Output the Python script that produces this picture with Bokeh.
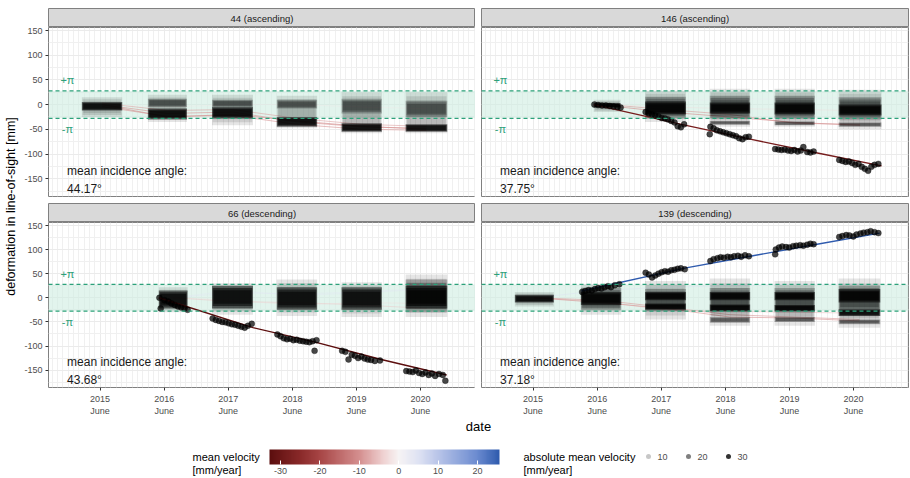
import math
from bokeh.plotting import figure
from bokeh.models import (ColumnDataSource, Range1d, FixedTicker, BoxAnnotation, Span,
                          LinearColorMapper, ColorBar)
from bokeh.layouts import row, column
from bokeh.embed import file_html
from bokeh.resources import INLINE
from bokeh.core.properties import value
from bokeh.transform import transform

# ------------------------------------------------------------------ data
PANEL_KEYS = ["44", "146", "66", "139"]
PANEL_TITLES = ["44 (ascending)", "146 (ascending)", "66 (descending)", "139 (descending)"]
INCIDENCE = ["44.17°", "37.75°", "43.68°", "37.18°"]
HALF_WAVELENGTH_MM = 27.7            # +/- pi phase ambiguity in mm

YEAR_TICKS = [2015.414, 2016.414, 2017.414, 2018.414, 2019.414, 2020.414]
YEAR_LABELS = ["2015\nJune", "2016\nJune", "2017\nJune", "2018\nJune", "2019\nJune", "2020\nJune"]
Y_TICKS = [-150, -100, -50, 0, 50, 100, 150]

# acquisition seasons (decimal year) per track
SEASON_START = {
    "44":  [2015.13, 2016.16, 2017.16, 2018.17, 2019.18, 2020.18],
    "146": [2016.36, 2017.16, 2018.17, 2019.18, 2020.18],
    "66":  [2016.33, 2017.16, 2018.17, 2019.18, 2020.18],
    "139": [2015.13, 2016.16, 2017.16, 2018.17, 2019.18, 2020.18],
}
SEASON_END = {
    "44":  [2015.76, 2016.77, 2017.80, 2018.80, 2019.81, 2020.83],
    "146": [2016.78, 2017.80, 2018.80, 2019.81, 2020.85],
    "66":  [2016.78, 2017.80, 2018.80, 2019.81, 2020.83],
    "139": [2015.74, 2016.79, 2017.80, 2018.80, 2019.81, 2020.83],
}

# dense point clouds: (season index, low mm, high mm, density level 1..3)
CLOUDS_44 = [(0, -25, 15, 1), (0, -12, 5, 3),
             (1, -35, 20, 1), (1, -5, 12, 2), (1, -30, -8, 3),
             (2, -42, 20, 1), (2, -5, 10, 2), (2, -28, -5, 3),
             (3, -48, 18, 1), (3, -8, 10, 2), (3, -45, -25, 3),
             (4, -58, 25, 1), (4, -18, 12, 2), (4, -55, -38, 3),
             (5, -58, 25, 1), (5, -25, 8, 2), (5, -55, -40, 3)]
CLOUDS_146 = [(0, -15, 10, 1), (0, -6, 3, 3),
              (1, -35, 28, 1), (1, -28, 16, 2), (1, -20, 6, 3),
              (2, -45, 32, 1), (2, -28, 18, 2), (2, -18, 4, 3), (2, -41, -33, 2),
              (3, -45, 32, 1), (3, -28, 18, 2), (3, -20, 4, 3), (3, -42, -34, 2),
              (4, -50, 30, 1), (4, -30, 15, 2), (4, -22, 0, 3), (4, -45, -36, 2)]
CLOUDS_66 = [(0, -30, 22, 1), (0, -22, 15, 3),
             (1, -35, 30, 1), (1, -22, 25, 3),
             (2, -38, 38, 1), (2, -25, 22, 3),
             (3, -40, 32, 1), (3, -25, 22, 3),
             (4, -40, 48, 1), (4, -30, 38, 2), (4, -22, 25, 3)]
CLOUDS_139 = [(0, -18, 12, 1), (0, -10, 6, 3),
              (1, -35, 28, 1), (1, -25, 20, 2), (1, -15, 12, 3),
              (2, -45, 35, 1), (2, -28, 18, 2), (2, -5, 12, 3), (2, -25, -12, 3),
              (3, -58, 40, 1), (3, -30, 20, 2), (3, -5, 12, 3), (3, -28, -14, 3), (3, -52, -40, 2),
              (4, -58, 35, 1), (4, -30, 20, 2), (4, -5, 12, 3), (4, -28, -15, 3), (4, -50, -40, 2),
              (5, -62, 40, 1), (5, -30, 25, 2), (5, -10, 18, 3), (5, -38, -24, 3), (5, -55, -45, 2)]
CLOUDS = {"44": CLOUDS_44, "146": CLOUDS_146, "66": CLOUDS_66, "139": CLOUDS_139}

# strongly moving points (dark tracks)
TRACK_146_X = [2016.37, 2016.43, 2016.49, 2016.55, 2016.61, 2016.67, 2016.73, 2016.78,
               2017.17, 2017.22, 2017.27, 2017.32, 2017.37, 2017.42, 2017.47, 2017.52, 2017.57, 2017.62, 2017.67, 2017.72, 2017.77,
               2018.17, 2018.18, 2018.23, 2018.28, 2018.33, 2018.38, 2018.43, 2018.48, 2018.53, 2018.58, 2018.63, 2018.68, 2018.73, 2018.78,
               2019.19, 2019.24, 2019.29, 2019.34, 2019.39, 2019.44, 2019.49, 2019.54, 2019.59, 2019.63, 2019.69, 2019.74, 2019.79,
               2020.19, 2020.24, 2020.29, 2020.34, 2020.39, 2020.44, 2020.49, 2020.54, 2020.59, 2020.64, 2020.69, 2020.74, 2020.80, 2020.84]
TRACK_146_Y = [0, -1, -2, -2, -3, -4, -5, -6,
               -15, -18, -20, -22, -24, -27, -28, -30, -33, -36, -44, -46, -40,
               -60, -45, -48, -52, -54, -56, -58, -60, -62, -64, -68, -70, -66, -65,
               -90, -91, -92, -91, -93, -94, -92, -95, -93, -86, -96, -97, -95,
               -112, -114, -116, -115, -118, -122, -120, -126, -130, -134, -126, -122, -120]
TRACK_66_X = [2016.34, 2016.36, 2016.42, 2016.48, 2016.53, 2016.58, 2016.63, 2016.68, 2016.73, 2016.78,
              2017.17, 2017.22, 2017.27, 2017.32, 2017.37, 2017.42, 2017.47, 2017.52, 2017.57, 2017.62, 2017.67, 2017.72, 2017.78,
              2018.18, 2018.23, 2018.28, 2018.33, 2018.38, 2018.43, 2018.48, 2018.53, 2018.58, 2018.63, 2018.68, 2018.73, 2018.76, 2018.79,
              2019.19, 2019.24, 2019.29, 2019.34, 2019.39, 2019.44, 2019.49, 2019.54, 2019.59, 2019.64, 2019.70, 2019.78,
              2020.19, 2020.24, 2020.29, 2020.34, 2020.39, 2020.44, 2020.49, 2020.54, 2020.59, 2020.64, 2020.70, 2020.76, 2020.80]
TRACK_66_Y = [0, -22, -5, -8, -12, -15, -18, -20, -22, -25,
              -43, -46, -48, -50, -51, -53, -55, -56, -58, -60, -62, -58, -54,
              -76, -80, -84, -86, -85, -88, -87, -89, -90, -91, -92, -90, -110, -88,
              -110, -112, -128, -118, -120, -125, -122, -126, -128, -129, -131, -130,
              -152, -153, -154, -151, -156, -158, -155, -160, -157, -162, -158, -160, -172]
TRACK_139_X = [2016.18, 2016.23, 2016.28, 2016.33, 2016.38, 2016.43, 2016.48, 2016.53, 2016.58, 2016.63, 2016.69, 2016.76,
               2017.17, 2017.22, 2017.27, 2017.32, 2017.37, 2017.42, 2017.47, 2017.52, 2017.57, 2017.62, 2017.67, 2017.72, 2017.78,
               2018.18, 2018.23, 2018.29, 2018.34, 2018.39, 2018.45, 2018.50, 2018.55, 2018.61, 2018.66, 2018.72, 2018.78,
               2019.19, 2019.20, 2019.25, 2019.30, 2019.36, 2019.41, 2019.47, 2019.52, 2019.58, 2019.63, 2019.69, 2019.74, 2019.79,
               2020.19, 2020.24, 2020.30, 2020.35, 2020.41, 2020.46, 2020.52, 2020.57, 2020.63, 2020.68, 2020.74, 2020.80]
TRACK_139_Y = [12, 14, 16, 15, 18, 20, 19, 22, 24, 22, 26, 28,
               52, 48, 42, 46, 50, 53, 55, 54, 57, 58, 60, 61, 59,
               76, 80, 82, 84, 83, 85, 84, 86, 87, 85, 88, 86,
               90, 100, 104, 106, 105, 104, 107, 108, 109, 108, 110, 112, 111,
               126, 128, 130, 129, 127, 131, 133, 135, 136, 138, 136, 134]
TRACKS = {"146": (TRACK_146_X, TRACK_146_Y), "66": (TRACK_66_X, TRACK_66_Y),
          "139": (TRACK_139_X, TRACK_139_Y)}

# trend lines of the moving points: (dates, mm), mean velocity mm/year
FIT_146 = ([2016.36, 2017.80, 2018.80, 2019.81, 2020.85], [0, -42, -70, -97, -124], -28.1)
FIT_66 = ([2016.33, 2017.80, 2018.80, 2019.80, 2020.82], [0, -62, -93, -128, -160], -35.6)
FIT_139 = ([2016.17, 2017.80, 2018.80, 2019.80, 2020.82], [14, 62, 86, 110, 134], 25.8)
FITS = {"146": FIT_146, "66": FIT_66, "139": FIT_139}

# faint per-point series (value at each season), mean velocity mm/year
FAINT_44 = [([0, -18, -15, -35, -45, -48], -9.5), ([-4, -24, -22, -40, -50, -52], -9.5),
            ([3, -12, -10, -28, -40, -44], -8.5), ([0, -25, -20, -33, -44, -50], -10.0),
            ([0, -5, 0, 0, -5, -8], -1.5)]
FAINT_146 = [([0, -10, -20, -38, -40], -9.0), ([-2, -15, -25, -36, -42], -10.0),
             ([0, -5, -8, -10, -12], -3.0), ([0, 8, 10, 12, 15], 3.0)]
FAINT_66 = [([0, 10, 8, 12, 20], 4.0), ([0, -8, -10, -15, -22], -5.0),
            ([0, 15, 5, 10, 18], 4.0), ([0, -5, -15, -10, -12], -3.0)]
FAINT_139 = [([0, -5, -20, -35, -40, -45], -9.0), ([0, -8, -25, -28, -30, -32], -6.5),
             ([0, 15, 22, 25, 28, 28], 5.5), ([0, -10, -22, -40, -42, -48], -9.5)]
FAINT = {"44": FAINT_44, "146": FAINT_146, "66": FAINT_66, "139": FAINT_139}

VEL_LIMITS = (-32.8, 25.6)
VEL_TICKS = [-30, -20, -10, 0, 10, 20]
ABS_VEL_LEGEND = [10, 20, 30]

# ------------------------------------------------------------------ style
FONT = "Liberation Sans"
GREEN = "#2ca17a"
XR = (2014.61, 2021.27)
YR = (-186, 156)
YLAB_W = 20
LEFT_AX = 28
PANEL_W = 427
GAP = 6
RIGHT_PAD = 2
TOP_PAD = 8
STRIP_H = 19
PANEL_H = 169
ROW_GAP = 7
X_AX_H = 27
TOTAL_W = YLAB_W + LEFT_AX + PANEL_W + GAP + PANEL_W + RIGHT_PAD   # 910
TOTAL_H = 478
DENSITY_ALPHA = {1: 0.28, 2: 0.55, 3: 0.9}
LEGEND_ALPHA = {10: 0.22, 20: 0.5, 30: 0.8}
GRID_C = "#ebebeb"

STOPS = [(-32.8, (0x5c, 0x0e, 0x0e)), (-25, (0x8a, 0x2a, 0x2a)), (-20, (0xa8, 0x46, 0x46)),
         (-10, (0xd5, 0x8f, 0x8f)), (-4, (0xef, 0xd0, 0xd0)), (0, (0xf7, 0xf4, 0xf4)),
         (5, (0xdf, 0xe3, 0xf3)), (10, (0xb9, 0xc5, 0xe9)), (20, (0x6b, 0x8b, 0xd0)),
         (25.6, (0x2f, 0x5b, 0xae))]


def build_palette(n=256):
    lo, hi = VEL_LIMITS
    pal = []
    for i in range(n):
        v = lo + (hi - lo) * i / (n - 1)
        for (a, ca), (b, cb) in zip(STOPS[:-1], STOPS[1:]):
            if a <= v <= b:
                t = (v - a) / (b - a)
                c = [round(ca[k] + (cb[k] - ca[k]) * t) for k in range(3)]
                pal.append("#%02x%02x%02x" % tuple(c))
                break
    return pal


mapper = LinearColorMapper(palette=build_palette(), low=VEL_LIMITS[0], high=VEL_LIMITS[1])


def line_alpha(v):
    return min(1.0, 0.3 + abs(v) / 25.0)


MONTHS = [y + m / 12.0 for y in range(2014, 2022) for m in range(12)
          if XR[0] <= y + m / 12.0 <= XR[1]]


def make_strip(title, left, top_pad):
    lb = LEFT_AX if left else GAP
    rb = 0 if left else RIGHT_PAD
    s = figure(width=PANEL_W + lb + rb, height=STRIP_H + top_pad, x_range=Range1d(0, 1),
               y_range=Range1d(0, 1),
               min_border_left=lb, min_border_right=rb, min_border_top=top_pad, min_border_bottom=0,
               output_backend="svg", toolbar_location=None)
    s.axis.visible = False
    s.grid.visible = False
    s.background_fill_color = "#d9d9d9"
    s.outline_line_color = "#808080"
    s.outline_line_width = 1
    s.text(x=[0.5], y=[0.5], text=[title], text_align="center", text_baseline="middle",
           text_font=value(FONT), text_font_size="9.5px", text_color="#1a1a1a")
    return s


def make_panel(idx, left, bottom):
    key = PANEL_KEYS[idx]
    lb = LEFT_AX if left else GAP
    rb = 0 if left else RIGHT_PAD
    bb = X_AX_H if bottom else ROW_GAP
    p = figure(width=PANEL_W + lb + rb, height=PANEL_H + bb, x_range=Range1d(*XR), y_range=Range1d(*YR),
               min_border_left=lb, min_border_right=rb, min_border_top=0, min_border_bottom=bb,
               output_backend="svg", toolbar_location=None)
    p.background_fill_color = "white"
    p.outline_line_color = "#808080"
    p.outline_line_width = 1

    xt = FixedTicker(ticks=YEAR_TICKS, minor_ticks=MONTHS)
    yt = FixedTicker(ticks=Y_TICKS, minor_ticks=[-175, -125, -75, -25, 25, 75, 125])
    p.xaxis.ticker = xt
    p.yaxis.ticker = yt
    p.xgrid.ticker = xt
    p.ygrid.ticker = yt
    for g in (p.xgrid[0], p.ygrid[0]):
        g.grid_line_color = GRID_C
        g.grid_line_width = 1
        g.minor_grid_line_color = "#f0f0f0"
        g.minor_grid_line_width = 1
    for ax in (p.xaxis[0], p.yaxis[0]):
        ax.axis_line_color = None
        ax.major_tick_line_color = "#333333"
        ax.major_tick_out = 3
        ax.major_tick_in = 0
        ax.minor_tick_line_color = None
        ax.major_label_text_font = FONT
        ax.major_label_text_font_size = "9px"
        ax.major_label_text_color = "#4d4d4d"
        ax.major_label_standoff = 2
    p.xaxis.major_label_overrides = {t: l for t, l in zip(YEAR_TICKS, YEAR_LABELS)}
    p.yaxis.major_label_overrides = {t: str(t) for t in Y_TICKS}
    p.xaxis.visible = bottom
    p.yaxis.visible = left

    # phase-ambiguity band
    p.add_layout(BoxAnnotation(bottom=-HALF_WAVELENGTH_MM, top=HALF_WAVELENGTH_MM,
                               fill_color="#cfede1", fill_alpha=0.6, line_color=None, level="underlay"))

    starts, ends = SEASON_START[key], SEASON_END[key]
    mids = [(a + b) / 2 for a, b in zip(starts, ends)]

    # faint series
    fx, fy, fv, fa = [], [], [], []
    for vals, vel in FAINT[key]:
        fx.append(mids)
        fy.append(vals)
        fv.append(vel)
        fa.append(line_alpha(vel) * 0.9)
    p.multi_line(xs="xs", ys="ys", source=ColumnDataSource(dict(xs=fx, ys=fy, vel=fv, alpha=fa)),
                 line_color=transform("vel", mapper), line_alpha="alpha", line_width=1)

    # clouds, drawn as three nested layers to soften their edges
    cl = CLOUDS[key]
    L, R, B, T, A = [], [], [], [], []
    for c in cl:
        a_total = DENSITY_ALPHA[c[3]]
        a_layer = 1 - (1 - a_total) ** (1 / 3)
        h = c[2] - c[1]
        for k in range(3):
            L.append(starts[c[0]] + 0.012 * k)
            R.append(ends[c[0]] - 0.012 * k)
            B.append(c[1] + h * 0.1 * k)
            T.append(c[2] - h * 0.1 * k)
            A.append(a_layer)
    p.quad(left=L, right=R, bottom=B, top=T, fill_color="black", fill_alpha=A, line_color=None)

    # trend line + moving points
    if key in FITS:
        fxs, fys, fvel = FITS[key]
        p.multi_line(xs="xs", ys="ys",
                     source=ColumnDataSource(dict(xs=[fxs], ys=[fys], vel=[fvel])),
                     line_color=transform("vel", mapper), line_width=1.4)
        tx, ty = TRACKS[key]
        p.scatter(x=tx, y=ty, size=6, fill_color="black", fill_alpha=0.72,
                  line_color="black", line_alpha=0.3)

    for loc in (HALF_WAVELENGTH_MM, -HALF_WAVELENGTH_MM):
        p.add_layout(Span(location=loc, dimension="width", line_color=GREEN,
                          line_dash="4 3", line_width=1.3))

    p.text(x=[2014.905, 2014.905], y=[50, -50], text=["+π", "-π"], text_align="center",
           text_baseline="middle", text_font=value(FONT), text_font_size="11px", text_color=GREEN)
    p.text(x=[2014.90, 2014.90], y=[-134, -170], text=["mean incidence angle:", INCIDENCE[idx]],
           text_align="left", text_baseline="middle", text_font=value(FONT),
           text_font_size="12px", text_color="#1a1a1a")
    return p


s1, s2 = make_strip(PANEL_TITLES[0], True, TOP_PAD), make_strip(PANEL_TITLES[1], False, TOP_PAD)
s3, s4 = make_strip(PANEL_TITLES[2], True, 0), make_strip(PANEL_TITLES[3], False, 0)
p1, p2 = make_panel(0, True, False), make_panel(1, False, False)
p3, p4 = make_panel(2, True, True), make_panel(3, False, True)

GRID_H = TOP_PAD + STRIP_H + PANEL_H + ROW_GAP + STRIP_H + PANEL_H + X_AX_H
ylab = figure(width=YLAB_W, height=GRID_H, x_range=Range1d(0, YLAB_W), y_range=Range1d(0, GRID_H),
              min_border=0, output_backend="svg", toolbar_location=None)
ylab.axis.visible = False
ylab.grid.visible = False
ylab.outline_line_color = None
ylab.text(x=[10], y=[GRID_H - 206], text=["deformation in line-of-sight [mm]"], angle=math.pi / 2,
          text_align="center", text_baseline="middle", text_font=value(FONT),
          text_font_size="12.5px", text_color="black")

LEG_H = TOTAL_H - GRID_H
leg = figure(width=TOTAL_W, height=LEG_H, x_range=Range1d(0, TOTAL_W), y_range=Range1d(0, LEG_H),
             min_border=0, output_backend="svg", toolbar_location=None)
leg.axis.visible = False
leg.grid.visible = False
leg.outline_line_color = None
cx = YLAB_W + LEFT_AX + (PANEL_W * 2 + GAP) / 2
leg.text(x=[cx], y=[LEG_H - 8], text=["date"], text_align="center", text_baseline="middle",
         text_font=value(FONT), text_font_size="13px", text_color="black")
leg.text(x=[cx - 286, cx - 286], y=[LEG_H - 38, LEG_H - 51], text=["mean velocity", "[mm/year]"],
         text_align="left", text_baseline="middle", text_font=value(FONT),
         text_font_size="11px", text_color="black")
cb = ColorBar(color_mapper=mapper, orientation="horizontal", width=230, height=15,
              location=(cx - 209, 2), padding=0, margin=0,
              ticker=FixedTicker(ticks=VEL_TICKS),
              major_label_overrides={t: str(t) for t in VEL_TICKS},
              major_tick_line_color="white",
              major_tick_in=4, major_tick_out=0, minor_tick_line_color=None,
              bar_line_color=None, border_line_color=None, background_fill_alpha=0,
              major_label_text_font=FONT, major_label_text_font_size="9px",
              major_label_text_color="#4d4d4d", label_standoff=3)
leg.add_layout(cb, "center")
leg.text(x=[cx + 45, cx + 45], y=[LEG_H - 38, LEG_H - 51],
         text=["absolute mean velocity", "[mm/year]"], text_align="left", text_baseline="middle",
         text_font=value(FONT), text_font_size="11px", text_color="black")
dot_x = [cx + 170, cx + 210, cx + 250]
leg.scatter(x=dot_x, y=[LEG_H - 38] * 3, size=5, fill_color="black",
            fill_alpha=[LEGEND_ALPHA[v] for v in ABS_VEL_LEGEND], line_color=None)
leg.text(x=[x + 9 for x in dot_x], y=[LEG_H - 38] * 3, text=[str(v) for v in ABS_VEL_LEGEND],
         text_align="left", text_baseline="middle", text_font=value(FONT),
         text_font_size="9px", text_color="#4d4d4d")

grid = column(row(s1, s2), row(p1, p2), row(s3, s4), row(p3, p4))
page = column(row(ylab, grid), leg)

open("out.html", "w").write(file_html(page, INLINE))
